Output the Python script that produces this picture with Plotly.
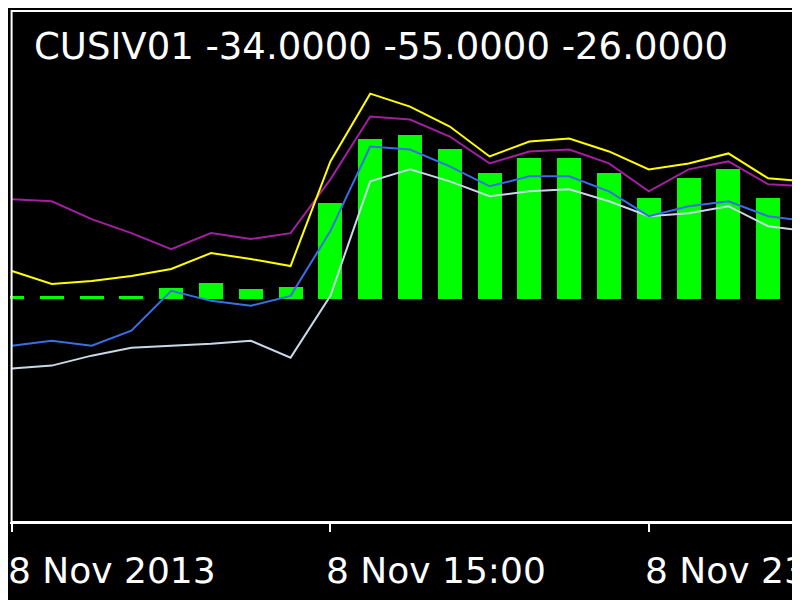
import plotly.graph_objects as go

idx = list(range(21))
hist = [1.5, 1.5, 1.5, 1.5, 5.5, 8, 5, 6, 48, 80, 82.5, 75, 63, 70.5, 70.5, 63, 50.5, 60.5, 65, 50.5, 48]
yellow = [14, 7.5, 9, 11.5, 15, 23, 20, 16.5, 69, 103, 96.5, 86.5, 71.5, 79, 80.5, 74, 65, 68, 73, 60.5, 59]
purple = [50, 49, 40, 33, 25, 33, 30, 33, 60, 91.5, 90, 81.5, 68, 74, 75, 68, 54, 65, 69, 57.5, 56.5]
blue = [-23.5, -21, -23.5, -16, 4, -1, -3.5, 1.5, 34, 76.5, 75, 66.5, 56.5, 61.5, 61.5, 54, 41.5, 46.5, 49, 41.5, 39]
silver = [-35, -33.5, -28.5, -24.5, -23.5, -22.5, -21, -29.5, 1.5, 59, 65, 59, 51.5, 54, 55, 49, 41.5, 43, 46.5, 36.5, 34]
tick_pos = [0, 8, 16]
tick_text = ["8 Nov 2013", "8 Nov 15:00", "8 Nov 23:00"]

fig = go.Figure()
fig.add_trace(go.Bar(x=idx, y=hist, marker_color="#00ff00", marker_line_width=0, width=0.6))
fig.add_trace(go.Scatter(x=idx, y=silver, mode="lines", line=dict(color="#c8d8e8", width=2)))
fig.add_trace(go.Scatter(x=idx, y=blue, mode="lines", line=dict(color="#3a6ee8", width=2)))
fig.add_trace(go.Scatter(x=idx, y=purple, mode="lines", line=dict(color="#a020a0", width=2)))
fig.add_trace(go.Scatter(x=idx, y=yellow, mode="lines", line=dict(color="#ffff00", width=2)))

fig.add_annotation(text="CUSIV01 -34.0000 -55.0000 -26.0000", x=0.028, y=0.975, xref="paper", yref="paper",
                   xanchor="left", yanchor="top", showarrow=False,
                   font=dict(family="DejaVu Sans", size=37, color="white"))
for p, t in zip(tick_pos, tick_text):
    fig.add_annotation(text=t, x=p, y=-0.05, xref="x", yref="paper", xanchor="left", yanchor="top",
                       xshift=-6, showarrow=False, font=dict(family="DejaVu Sans", size=36, color="white"))

fig.add_shape(type="rect", xref="paper", yref="paper", x0=0.002, x1=1.05, y0=0, y1=0.998,
              line=dict(color="white", width=2))

fig.update_layout(
    width=800, height=600, showlegend=False,
    paper_bgcolor="black", plot_bgcolor="black",
    margin=dict(l=2, r=0, t=2, b=86, pad=0),
    bargap=0,
    xaxis=dict(range=[-0.05, 20.0], showgrid=False, zeroline=False, showline=True, linecolor="white",
               linewidth=2, tickvals=tick_pos, showticklabels=False, ticks="outside",
               ticklen=8, tickcolor="white", tickwidth=2, automargin=False),
    yaxis=dict(range=[-112, 145], showgrid=False, zeroline=False, showline=False,
               showticklabels=False, automargin=False),
)
fig.write_html("out.html")
